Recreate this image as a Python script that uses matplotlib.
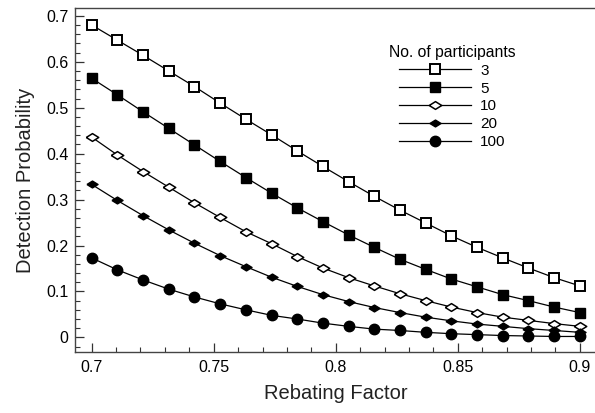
import numpy as np
import matplotlib.pyplot as plt
from matplotlib.ticker import MultipleLocator, FormatStrFormatter

plt.rcParams['font.family'] = ['Liberation Sans', 'DejaVu Sans']

# rebating factor, 20 evenly spaced values from 0.7 to 0.9
rebating = np.linspace(0.7, 0.9, 20)

p3 = [0.680, 0.647, 0.614, 0.580, 0.546, 0.510, 0.475, 0.441, 0.406, 0.372,
      0.339, 0.307, 0.277, 0.249, 0.221, 0.196, 0.173, 0.151, 0.130, 0.112]
p5 = [0.564, 0.528, 0.491, 0.455, 0.419, 0.383, 0.348, 0.314, 0.282, 0.252,
      0.223, 0.196, 0.170, 0.148, 0.127, 0.110, 0.093, 0.080, 0.066, 0.054]
p10 = [0.436, 0.397, 0.361, 0.327, 0.293, 0.261, 0.230, 0.204, 0.176, 0.151,
       0.130, 0.112, 0.095, 0.080, 0.066, 0.054, 0.044, 0.037, 0.030, 0.024]
p20 = [0.333, 0.298, 0.265, 0.234, 0.205, 0.178, 0.154, 0.131, 0.111, 0.093,
       0.078, 0.065, 0.054, 0.044, 0.036, 0.029, 0.024, 0.019, 0.015, 0.011]
p100 = [0.173, 0.147, 0.125, 0.105, 0.088, 0.073, 0.060, 0.048, 0.040, 0.031,
        0.024, 0.018, 0.015, 0.011, 0.008, 0.006, 0.004, 0.003, 0.002, 0.002]

labels = ['3', '5', '10', '20', '100']

# flat diamond marker (wider than tall)
flat_diamond = [(-1, 0), (0, 0.62), (1, 0), (0, -0.62), (-1, 0)]

styles = [
    dict(marker='s', ms=7.5, mfc='white', mew=1.4),
    dict(marker='s', ms=7.5, mfc='black', mew=1.0),
    dict(marker=flat_diamond, ms=9, mfc='white', mew=1.1),
    dict(marker=flat_diamond, ms=8, mfc='black', mew=1.0),
    dict(marker='o', ms=7.5, mfc='black', mew=1.0),
]

fig = plt.figure(figsize=(5.95, 4.13), dpi=100)
ax = fig.add_axes([0.1266, 0.1475, 0.875, 0.832])

for vals, lab, st in zip([p3, p5, p10, p20, p100], labels, styles):
    ax.plot(rebating, vals, color='black', lw=0.9, mec='black', label=lab, **st)

ax.set_xlim(0.6933, 0.9066)
ax.set_ylim(-0.032, 0.716)
ax.xaxis.set_major_locator(MultipleLocator(0.05))
ax.xaxis.set_minor_locator(MultipleLocator(0.01))
ax.yaxis.set_major_locator(MultipleLocator(0.1))
ax.yaxis.set_minor_locator(MultipleLocator(0.02))
ax.xaxis.set_major_formatter(FormatStrFormatter('%g'))
ax.yaxis.set_major_formatter(FormatStrFormatter('%g'))
ax.tick_params(which='both', direction='in', labelsize=11.5, color='#333333')
ax.tick_params(which='major', length=6.5, width=0.9)
ax.tick_params(which='minor', length=3.5, width=0.8)
ax.tick_params(axis='x', pad=6)
ax.tick_params(axis='y', pad=5)
ax.spines['right'].set_visible(False)
for s in ['left', 'bottom', 'top']:
    ax.spines[s].set_color('#444444')
    ax.spines[s].set_linewidth(1.0)

ax.set_xlabel('Rebating Factor', fontsize=14.5, color='#222222', labelpad=6)
ax.set_ylabel('Detection Probability', fontsize=14.5, color='#222222', labelpad=8)

leg = ax.legend(title='No. of participants', loc='upper center',
                bbox_to_anchor=(0.724, 0.925), frameon=False, fontsize=11,
                title_fontsize=11.3, handlelength=4.7, handletextpad=0.6,
                labelspacing=0.25, borderpad=0.2)

fig.savefig('out.png', dpi=100)
